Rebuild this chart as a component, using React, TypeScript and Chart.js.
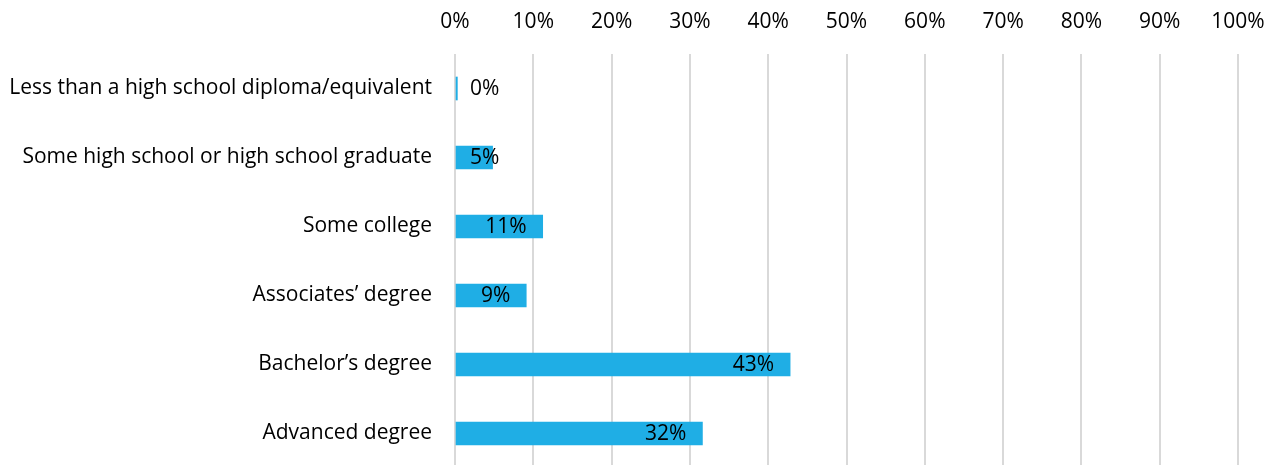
import React, { useEffect, useRef } from "react";
import { Chart, registerables } from "chart.js";

Chart.register(...registerables);

const categories = [
  "Less than a high school diploma/equivalent",
  "Some high school or high school graduate",
  "Some college",
  "Associates’ degree",
  "Bachelor’s degree",
  "Advanced degree",
];
const values = [0.3, 4.8, 11.2, 9.1, 42.8, 31.6];
const valueLabels = ["0%", "5%", "11%", "9%", "43%", "32%"];

const FONT = "'Open Sans'";
const FONT_SIZE = 21;
const BAR_COLOR = "#1FAEE5";

const labelPlugin = {
  id: "barLabels",
  afterDatasetsDraw(chart: any) {
    const ctx = chart.ctx;
    const meta = chart.getDatasetMeta(0);
    const xScale = chart.scales.x;
    const base = xScale.getPixelForValue(0);
    ctx.save();
    ctx.font = `${FONT_SIZE}px ${FONT}`;
    ctx.fillStyle = "#000";
    ctx.textBaseline = "middle";
    ctx.textAlign = "right";
    meta.data.forEach((bar: any, i: number) => {
      const text = valueLabels[i];
      const w = ctx.measureText(text).width;
      const right = Math.max(bar.x - 16, base + 15 + w);
      ctx.fillText(text, right, bar.y + 1);
    });
    ctx.restore();
  },
};

export default function App() {
  const ref = useRef<HTMLCanvasElement>(null);
  useEffect(() => {
    if (!ref.current) return;
    const chart = new Chart(ref.current, {
      type: "bar",
      data: {
        labels: categories,
        datasets: [
          {
            data: values,
            backgroundColor: BAR_COLOR,
            barThickness: 23,
            borderWidth: 0,
          },
        ],
      },
      options: {
        indexAxis: "y",
        animation: false,
        responsive: false,
        maintainAspectRatio: false,
        layout: { padding: { left: 0, right: 38, top: 0, bottom: 0 } },
        plugins: {
          legend: { display: false },
          tooltip: { enabled: false },
        },
        scales: {
          x: {
            position: "top",
            min: 0,
            max: 100,
            afterFit: (s: any) => {
              s.height = 54;
              s.paddingLeft = 0;
              s.paddingRight = 0;
            },
            ticks: {
              stepSize: 10,
              callback: (v: any) => `${v}%`,
              font: { family: FONT, size: FONT_SIZE },
              color: "#000",
              padding: 19,
              maxRotation: 0,
            },
            grid: {
              color: "#D9D9D9",
              lineWidth: 2,
              drawTicks: false,
            },
            border: { display: false },
          },
          y: {
            afterFit: (s: any) => {
              s.width = 455;
              s.paddingTop = 0;
              s.paddingBottom = 0;
            },
            ticks: {
              font: { family: FONT, size: FONT_SIZE },
              color: "#000",
              padding: 23,
            },
            grid: { display: false, drawTicks: false },
            border: { display: false },
          },
        },
      },
      plugins: [labelPlugin],
    });
    return () => chart.destroy();
  }, []);
  return (
    <div style={{ position: "fixed", top: 0, left: 0, width: 1276, height: 468, background: "#fff" }}>
      <canvas ref={ref} width={1276} height={468} style={{ width: 1276, height: 468 }} />
    </div>
  );
}
